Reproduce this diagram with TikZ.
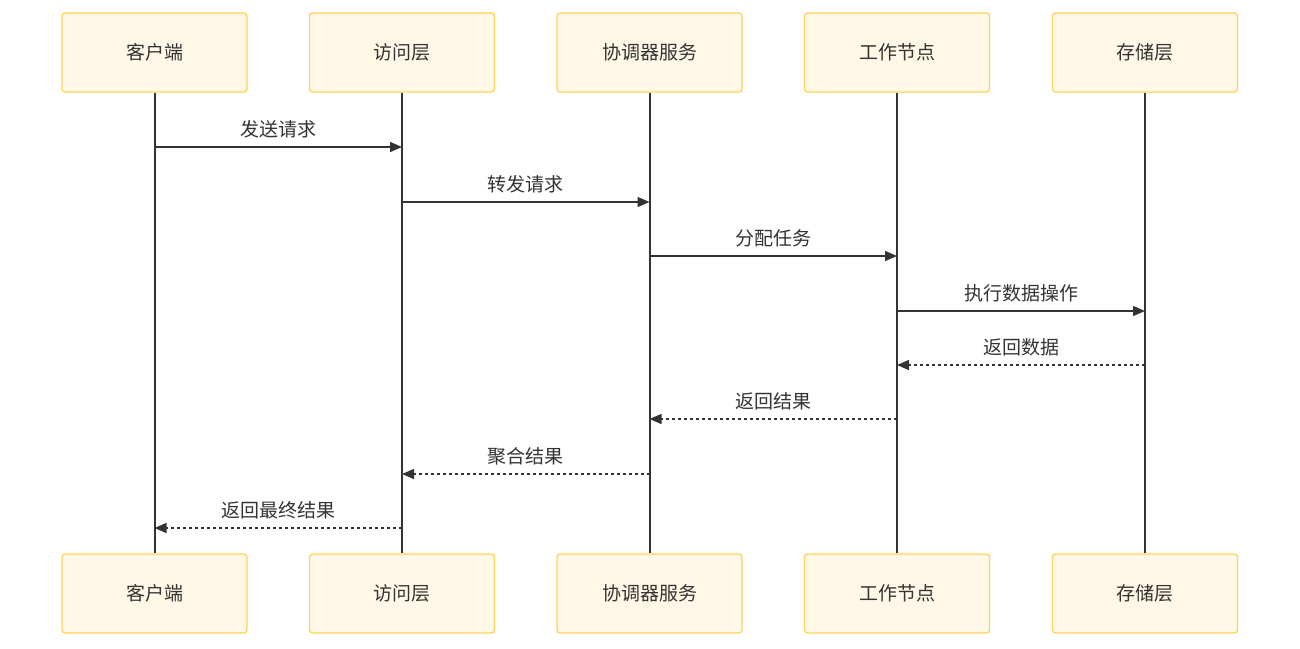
\documentclass[tikz,border=0pt]{standalone}
\usepackage{fontspec}
\setmainfont{Noto Sans CJK SC}
\usetikzlibrary{arrows.meta}
\definecolor{boxfill}{HTML}{FFF8E6}
\definecolor{boxline}{HTML}{FFD25A}
\definecolor{ink}{HTML}{333333}
\tikzset{
  actor/.style={draw=boxline, fill=boxfill, line width=1.3pt, rounded corners=3pt,
    minimum width=185pt, minimum height=79pt, inner sep=0pt, text=ink, font=\fontsize{19}{21}\selectfont},
  life/.style={draw=ink, line width=2pt},
  msg/.style={draw=ink, line width=1.4pt, -{Triangle[length=12pt,width=10pt]}},
  ret/.style={msg, dash pattern=on 3pt off 3pt},
  lbl/.style={text=ink, font=\fontsize{19}{21}\selectfont, inner sep=0pt}
}
\begin{document}
\begin{tikzpicture}[x=1pt,y=-1pt]
\useasboundingbox (0,0) rectangle (1300,648);
\foreach \n/\x/\t in {a/154.5/客户端, b/402/访问层, c/649.5/协调器服务, d/897/工作节点, e/1145/存储层}{
  \node[actor] (\n top) at (\x,52.5) {\raisebox{-2pt}{\t}};
  \node[actor] (\n bot) at (\x,593.5) {\raisebox{-2pt}{\t}};
  \draw[life] (\n top.south) -- (\n bot.north);
}
% message anchor coordinates
\foreach \n/\x in {a/154.5, b/402, c/649.5, d/897, e/1145}{
  \foreach \k/\y in {1/147, 2/202, 3/256, 4/311, 5/365, 6/419, 7/474, 8/528}{
    \coordinate (\n\k) at (\x,\y);
  }
}
\draw[msg] (a1) -- node[lbl, above=8pt] {发送请求} (b1);
\draw[msg] (b2) -- node[lbl, above=8pt] {转发请求} (c2);
\draw[msg] (c3) -- node[lbl, above=8pt] {分配任务} (d3);
\draw[msg] (d4) -- node[lbl, above=8pt] {执行数据操作} (e4);
\draw[ret] (e5) -- node[lbl, above=8pt] {返回数据} (d5);
\draw[ret] (d6) -- node[lbl, above=8pt] {返回结果} (c6);
\draw[ret] (c7) -- node[lbl, above=8pt] {聚合结果} (b7);
\draw[ret] (b8) -- node[lbl, above=8pt] {返回最终结果} (a8);
\end{tikzpicture}
\end{document}
